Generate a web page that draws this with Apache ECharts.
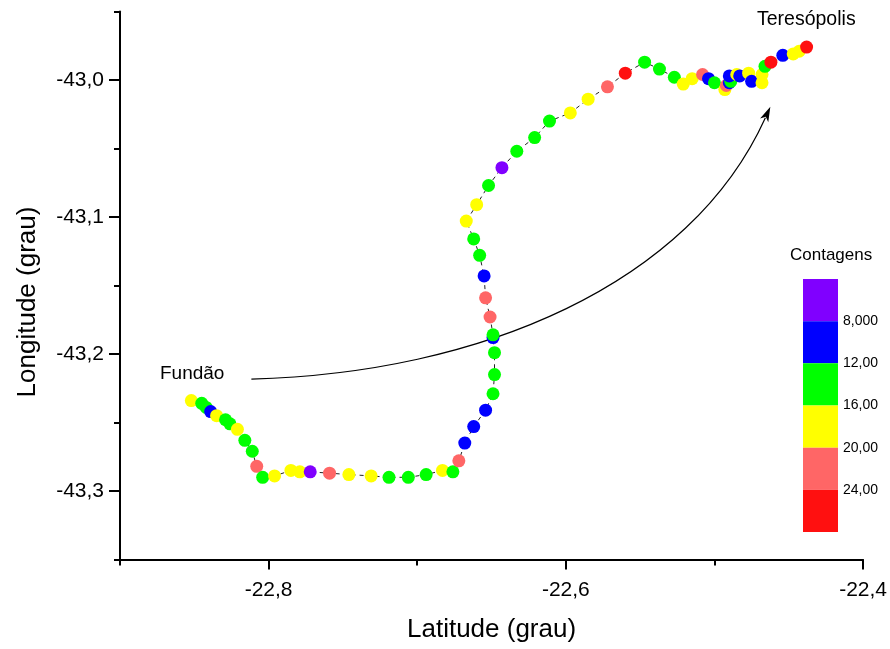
<!DOCTYPE html>
<html>
<head>
<meta charset="utf-8">
<script src="https://cdn.jsdelivr.net/npm/echarts@6/dist/echarts.min.js"></script>
<style>
  html, body { margin: 0; padding: 0; background: #fff; }
  #chart { width: 890px; height: 649px; }
</style>
</head>
<body>
<div id="chart"></div>
<script>
// Route Fundão -> Teresópolis: position of each reading and its count
const latitude = [
  -22.852, -22.845, -22.842, -22.839, -22.835, -22.829, -22.826, -22.821, -22.816, -22.811,
  -22.808, -22.804, -22.796, -22.785, -22.779, -22.772, -22.759, -22.746, -22.731, -22.719,
  -22.706, -22.694, -22.683, -22.676, -22.672, -22.668, -22.662, -22.654, -22.649, -22.648,
  -22.648, -22.649, -22.649, -22.651, -22.654, -22.655, -22.658, -22.662, -22.667, -22.660,
  -22.652, -22.643, -22.633, -22.621, -22.611, -22.597, -22.585, -22.572, -22.560, -22.547,
  -22.537, -22.527, -22.521, -22.515, -22.508, -22.504, -22.500, -22.493, -22.492, -22.490,
  -22.489, -22.490, -22.485, -22.483, -22.477, -22.475, -22.468, -22.468, -22.466, -22.462,
  -22.454, -22.447, -22.443, -22.438
];
const longitude = [
  -43.234, -43.236, -43.239, -43.242, -43.245, -43.248, -43.251, -43.255, -43.263, -43.271,
  -43.282, -43.290, -43.289, -43.285, -43.286, -43.286, -43.287, -43.288, -43.289, -43.290,
  -43.290, -43.288, -43.285, -43.286, -43.278, -43.265, -43.253, -43.241, -43.229, -43.215,
  -43.199, -43.188, -43.186, -43.173, -43.159, -43.143, -43.128, -43.116, -43.103, -43.091,
  -43.077, -43.064, -43.052, -43.042, -43.030, -43.024, -43.014, -43.005, -42.995, -42.987,
  -42.992, -42.998, -43.003, -42.999, -42.996, -42.999, -43.002, -43.007, -43.004, -43.002,
  -43.001, -42.997, -42.996, -42.997, -42.995, -43.001, -43.002, -42.996, -42.990, -42.987,
  -42.982, -42.981, -42.979, -42.976
];
const contagens = [
  18, 14, 14, 10, 18, 14, 14, 18, 14, 14,
  22, 14, 18, 18, 18, 6, 22, 18, 18, 14,
  14, 14, 18, 14, 22, 10, 10, 10, 14, 14,
  14, 10, 14, 22, 22, 10, 14, 14, 18, 18,
  14, 6, 14, 14, 14, 18, 18, 22, 26, 14,
  14, 14, 18, 18, 22, 10, 14, 18, 22, 10,
  14, 10, 18, 10, 18, 10, 18, 18, 14, 26,
  10, 18, 18, 26
];

// Curved arrow Fundão -> Teresópolis: start, two bezier controls, tip (lat, lon)
const arrowLat = [-22.8116, -22.6577, -22.5166, -22.4624];
const arrowLon = [-43.2183, -43.2139, -43.1497, -43.0195];

// Axis ticks
const xMajorTicks = [-22.8, -22.6, -22.4];
const xMinorTicks = [-22.9, -22.7, -22.5];
const yMajorTicks = [-43.3, -43.2, -43.1, -43.0];
const yMinorTicks = [-43.35, -43.25, -43.15, -43.05, -42.95];

// Colour scale for counts
const scaleEdges = [4, 8, 12, 16, 20, 24, 28];
const scaleColors = ['#8000ff', '#0000ff', '#00ff00', '#ffff00', '#ff6666', '#ff1010'];
const scaleLabels = ['8,000', '12,00', '16,00', '20,00', '24,00'];

const FONT = 'Liberation Sans, Arial, sans-serif';
const comma = v => v.toFixed(1).replace('.', ',');

const routeLine = latitude.map((x, i) => [x, longitude[i]]);
const routePoints = latitude.map((x, i) => [x, longitude[i], contagens[i]]);

const pieces = scaleColors.map((c, i) => {
  const p = { color: c };
  if (i > 0) p.gte = scaleEdges[i];
  if (i < scaleColors.length - 1) p.lt = scaleEdges[i + 1];
  return p;
});
const bands = scaleColors.map((c, i) => [0, scaleEdges[i], scaleEdges[i + 1], i]);

const chart = echarts.init(document.getElementById('chart'), null, { renderer: 'canvas' });

const axisLineStyle = { lineStyle: { color: '#000', width: 2 } };

chart.setOption({
  animation: false,
  backgroundColor: '#fff',
  grid: [
    { left: 120, right: 26.5, top: 11.5, bottom: 89.5 },
    { left: 803, width: 35, top: 279, height: 253 }
  ],
  xAxis: [
    {
      gridIndex: 0, type: 'value', min: -22.9, max: -22.4,
      name: 'Latitude (grau)', nameLocation: 'middle', nameGap: 57,
      nameTextStyle: { fontFamily: FONT, fontSize: 26, color: '#000' },
      axisLine: { show: true, onZero: false, ...axisLineStyle },
      axisTick: { show: true, length: 10, customValues: xMajorTicks, lineStyle: { color: '#000', width: 2 } },
      axisLabel: { customValues: xMajorTicks, formatter: comma, margin: 20, fontFamily: FONT, fontSize: 21, color: '#000' },
      splitLine: { show: false }
    },
    {
      gridIndex: 0, type: 'value', min: -22.9, max: -22.4, position: 'bottom',
      axisLine: { show: false },
      axisTick: { show: true, length: 6, customValues: xMinorTicks, lineStyle: { color: '#000', width: 2 } },
      axisLabel: { show: false },
      splitLine: { show: false }
    },
    { gridIndex: 1, type: 'value', min: 0, max: 1, show: false }
  ],
  yAxis: [
    {
      gridIndex: 0, type: 'value', min: -43.35, max: -42.95,
      axisLine: { show: true, onZero: false, ...axisLineStyle },
      axisTick: { show: true, length: 11, customValues: yMajorTicks, lineStyle: { color: '#000', width: 2 } },
      axisLabel: { customValues: yMajorTicks, formatter: comma, margin: 16, fontFamily: FONT, fontSize: 21, color: '#000' },
      splitLine: { show: false }
    },
    {
      gridIndex: 0, type: 'value', min: -43.35, max: -42.95, position: 'left',
      axisLine: { show: false },
      axisTick: { show: true, length: 6, customValues: yMinorTicks, lineStyle: { color: '#000', width: 2 } },
      axisLabel: { show: false },
      splitLine: { show: false }
    },
    {
      gridIndex: 1, type: 'value', min: scaleEdges[0], max: scaleEdges[scaleEdges.length - 1],
      inverse: true, position: 'right',
      axisLine: { show: false }, axisTick: { show: false }, splitLine: { show: false },
      axisLabel: {
        customValues: scaleEdges.slice(1, -1),
        formatter: v => scaleLabels[scaleEdges.indexOf(v) - 1],
        margin: 5, fontFamily: FONT, fontSize: 14, color: '#000'
      }
    }
  ],
  visualMap: {
    type: 'piecewise', show: false, dimension: 2, seriesIndex: 1, pieces: pieces
  },
  series: [
    {
      type: 'line', xAxisIndex: 0, yAxisIndex: 0, data: routeLine,
      symbol: 'none', z: 1,
      lineStyle: { color: '#222', width: 1, type: [4, 4] }
    },
    {
      type: 'scatter', xAxisIndex: 0, yAxisIndex: 0, data: routePoints,
      symbol: 'circle', symbolSize: 13, z: 3,
      itemStyle: { opacity: 1 }
    },
    {
      type: 'custom', xAxisIndex: 2, yAxisIndex: 2, data: bands, clip: false,
      encode: { x: 0, y: [1, 2] },
      renderItem: (params, api) => {
        const p0 = api.coord([0, api.value(1)]);
        const p1 = api.coord([1, api.value(2)]);
        return {
          type: 'rect',
          shape: { x: p0[0], y: Math.min(p0[1], p1[1]), width: p1[0] - p0[0], height: Math.abs(p1[1] - p0[1]) },
          style: { fill: scaleColors[api.value(3)] }
        };
      }
    }
  ]
});

// Arrow annotation, placed through the plot's own coordinate system
const pts = arrowLat.map((x, i) => chart.convertToPixel({ gridIndex: 0 }, [x, arrowLon[i]]));
const tip = pts[3], ctl = pts[2];
const ang = Math.atan2(tip[1] - ctl[1], tip[0] - ctl[0]);
const headLen = 15, headHalf = 4.5;
const back = [tip[0] - headLen * Math.cos(ang), tip[1] - headLen * Math.sin(ang)];
const nx = -Math.sin(ang), ny = Math.cos(ang);
const shaftEnd = [tip[0] - (headLen - 3) * Math.cos(ang), tip[1] - (headLen - 3) * Math.sin(ang)];

chart.setOption({
  graphic: [
    {
      type: 'bezierCurve', z: 2,
      shape: { x1: pts[0][0], y1: pts[0][1], cpx1: pts[1][0], cpy1: pts[1][1], cpx2: pts[2][0], cpy2: pts[2][1], x2: shaftEnd[0], y2: shaftEnd[1] },
      style: { stroke: '#000', lineWidth: 1.2, fill: null }
    },
    {
      type: 'polygon', z: 2,
      shape: { points: [tip, [back[0] + nx * headHalf, back[1] + ny * headHalf], [tip[0] - (headLen - 4) * Math.cos(ang), tip[1] - (headLen - 4) * Math.sin(ang)], [back[0] - nx * headHalf, back[1] - ny * headHalf]] },
      style: { fill: '#000' }
    },
    {
      type: 'text', x: 28, y: 302, rotation: Math.PI / 2,
      style: { text: 'Longitude (grau)', fontFamily: FONT, fontSize: 26, fill: '#000', align: 'center', verticalAlign: 'middle' }
    },
    { type: 'text', left: 160, top: 364, style: { text: 'Fundão', fontFamily: FONT, fontSize: 19, fill: '#000' } },
    { type: 'text', left: 757, top: 10, style: { text: 'Teresópolis', fontFamily: FONT, fontSize: 19.5, fill: '#000' } },
    { type: 'text', left: 790, top: 247, style: { text: 'Contagens', fontFamily: FONT, fontSize: 17, fill: '#000' } }
  ]
});
</script>
</body>
</html>
